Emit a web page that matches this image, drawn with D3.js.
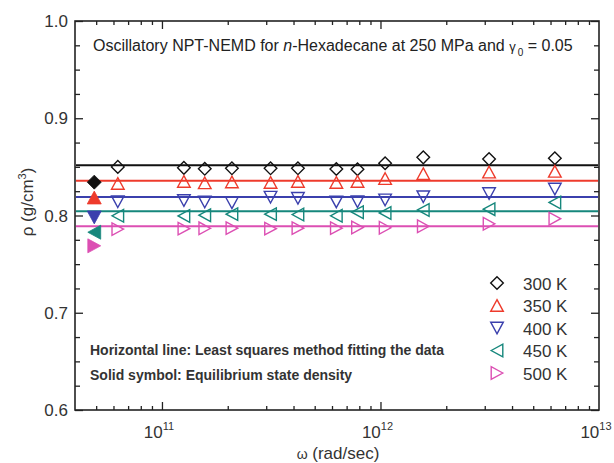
<!DOCTYPE html>
<html>
<head>
<meta charset="utf-8">
<script src="https://cdn.jsdelivr.net/npm/d3@7"></script>
<style>
  body { margin: 0; background: #fff; }
  svg { display: block; font-family: "Liberation Sans", Arial, sans-serif; }
</style>
</head>
<body>
<svg id="chart" width="614" height="463"></svg>
<script>
// Angular frequency of the oscillatory shear (rad/sec)
const omega = [6.28e10, 1.26e11, 1.57e11, 2.09e11, 3.14e11, 4.19e11, 6.28e11, 7.85e11, 1.05e12, 1.57e12, 3.14e12, 6.28e12];

// Density (g/cm^3) at each frequency, one array per temperature
const temps = ["300 K", "350 K", "400 K", "450 K", "500 K"];
const rho300 = [0.850, 0.849, 0.848, 0.8485, 0.8485, 0.8485, 0.8478, 0.8475, 0.8537, 0.8598, 0.8580, 0.8588];
const rho350 = [0.833, 0.835, 0.8336, 0.8345, 0.834, 0.835, 0.834, 0.835, 0.838, 0.843, 0.8447, 0.8454];
const rho400 = [0.8142, 0.8154, 0.8139, 0.813, 0.8188, 0.8177, 0.814, 0.8142, 0.816, 0.8193, 0.8226, 0.8272];
const rho450 = [0.7997, 0.7995, 0.8003, 0.8014, 0.8014, 0.801, 0.7997, 0.8034, 0.8026, 0.8057, 0.8065, 0.8134];
const rho500 = [0.786, 0.7865, 0.7868, 0.787, 0.7865, 0.787, 0.787, 0.7877, 0.7874, 0.7889, 0.7915, 0.7967];

// Least-squares horizontal fit for each temperature
const fitRho = [0.8516, 0.8358, 0.819, 0.8043, 0.7889];

// Equilibrium-state densities (solid symbols)
const eqOmega = 4.9e10;
const eqRho = [0.8343, 0.8185, 0.798, 0.7828, 0.7688];

const yTicks = [0.6, 0.7, 0.8, 0.9, 1.0];
const xTickExp = [11, 12, 13];

const colors = ["#111111", "#ee3b2c", "#3b40ad", "#16877c", "#dc4fb3"];
const shapes = ["diamond", "up", "down", "left", "right"];
const series = [rho300, rho350, rho400, rho450, rho500];

const svg = d3.select("#chart");
const L = 75, R = 599, T = 21, B = 410;

const x = d3.scaleLog().domain([4e10, 1e13]).range([L, R]);
const y = d3.scaleLinear().domain([0.6, 1.0]).range([B, T]);

// Marker outline paths centered on (0,0)
function shapePath(kind, r) {
  const h = r * 0.92;
  switch (kind) {
    case "diamond": return `M0,${-r}L${r},0L0,${r}L${-r},0Z`;
    case "up": return `M0,${-h}L${r},${h}L${-r},${h}Z`;
    case "down": return `M0,${h}L${r},${-h}L${-r},${-h}Z`;
    case "left": return `M${-h},0L${h},${-r}L${h},${r}Z`;
    case "right": return `M${h},0L${-h},${-r}L${-h},${r}Z`;
  }
}

// Minor tick positions
const xMinor = [];
for (let e = 10; e <= 12; e++) for (let k = 2; k <= 9; k++) {
  const v = k * Math.pow(10, e);
  if (v > 4e10 && v < 1e13) xMinor.push(v);
}
const yMinor = d3.range(0.625, 1.0, 0.025).filter(v => Math.abs(v * 10 - Math.round(v * 10)) > 1e-6);
const xMajor = xTickExp.map(e => Math.pow(10, e)).filter(v => v < 1e13);

const axisColor = "#222";
function styleAxis(g) {
  g.select(".domain").remove();
  g.selectAll(".tick line").attr("stroke", axisColor).attr("stroke-width", 1.3);
  g.selectAll(".tick text").remove();
}

// Bottom and top ticks (inward)
svg.append("g").attr("transform", `translate(0,${B})`)
  .call(d3.axisBottom(x).tickValues(xMinor).tickSize(-4).tickSizeOuter(0)).call(styleAxis);
svg.append("g").attr("transform", `translate(0,${B})`)
  .call(d3.axisBottom(x).tickValues(xMajor).tickSize(-8).tickSizeOuter(0)).call(styleAxis);
svg.append("g").attr("transform", `translate(0,${T})`)
  .call(d3.axisTop(x).tickValues(xMinor).tickSize(-4).tickSizeOuter(0)).call(styleAxis);
svg.append("g").attr("transform", `translate(0,${T})`)
  .call(d3.axisTop(x).tickValues(xMajor).tickSize(-8).tickSizeOuter(0)).call(styleAxis);

// Left and right ticks (inward)
svg.append("g").attr("transform", `translate(${L},0)`)
  .call(d3.axisLeft(y).tickValues(yMinor).tickSize(-5).tickSizeOuter(0)).call(styleAxis);
svg.append("g").attr("transform", `translate(${L},0)`)
  .call(d3.axisLeft(y).tickValues(yTicks).tickSize(-8).tickSizeOuter(0)).call(styleAxis);
svg.append("g").attr("transform", `translate(${R},0)`)
  .call(d3.axisRight(y).tickValues(yMinor).tickSize(-5).tickSizeOuter(0)).call(styleAxis);
svg.append("g").attr("transform", `translate(${R},0)`)
  .call(d3.axisRight(y).tickValues(yTicks).tickSize(-8).tickSizeOuter(0)).call(styleAxis);

// Frame
svg.append("rect").attr("x", L).attr("y", T).attr("width", R - L).attr("height", B - T)
  .attr("fill", "none").attr("stroke", axisColor).attr("stroke-width", 1.6);

// Y tick labels
svg.append("g").selectAll("text").data(yTicks).join("text")
  .attr("x", L - 7).attr("y", d => y(d) + 6)
  .attr("text-anchor", "end").attr("font-size", 17).attr("fill", "#333")
  .text(d => d.toFixed(1));

// X tick labels: 10 with superscript exponent
const xl = svg.append("g").selectAll("text").data(xTickExp).join("text")
  .attr("x", d => x(Math.pow(10, d)) - 3).attr("y", 438)
  .attr("text-anchor", "middle").attr("font-size", 17).attr("fill", "#333");
xl.append("tspan").text("10");
xl.append("tspan").attr("dy", -8).attr("font-size", 11).text(d => d);

// Axis titles
const xt = svg.append("text").attr("x", 338).attr("y", 459).attr("text-anchor", "middle")
  .attr("font-size", 17).attr("fill", "#333");
xt.append("tspan").attr("font-size", 14).text("ω");
xt.append("tspan").text(" (rad/sec)");

const yt = svg.append("text").attr("transform", "translate(33,202) rotate(-90)")
  .attr("text-anchor", "middle").attr("font-size", 17).attr("fill", "#333");
yt.append("tspan").text("ρ (g/cm");
yt.append("tspan").attr("dy", -7).attr("font-size", 11).text("3");
yt.append("tspan").attr("dy", 7).text(")");

// Fit lines
svg.append("g").selectAll("line").data(fitRho).join("line")
  .attr("x1", L + 1).attr("x2", R - 1)
  .attr("y1", d => y(d)).attr("y2", d => y(d))
  .attr("stroke", (d, i) => colors[i]).attr("stroke-width", 2);

// Open symbols for NEMD data
series.forEach((vals, i) => {
  svg.append("g").selectAll("path").data(vals).join("path")
    .attr("transform", (d, j) => `translate(${x(omega[j])},${y(d)})`)
    .attr("d", shapePath(shapes[i], 6.3))
    .attr("fill", "none").attr("stroke", colors[i]).attr("stroke-width", 1.4);
});

// Solid symbols for equilibrium densities
svg.append("g").selectAll("path").data(eqRho).join("path")
  .attr("transform", d => `translate(${x(eqOmega)},${y(d)})`)
  .attr("d", (d, i) => shapePath(shapes[i], 7))
  .attr("fill", (d, i) => colors[i]).attr("stroke", (d, i) => colors[i]).attr("stroke-width", 0.8);

// Title
const title = svg.append("text").attr("x", 93).attr("y", 51)
  .attr("font-size", 16).attr("fill", "#222");
title.append("tspan").text("Oscillatory NPT-NEMD for ");
title.append("tspan").attr("font-style", "italic").text("n");
title.append("tspan").text("-Hexadecane at 250 MPa and ");
title.append("tspan").attr("font-size", 13).text("γ");
title.append("tspan").attr("dy", 5).attr("dx", 2).attr("font-size", 10).text("0");
title.append("tspan").attr("dy", -5).text(" = 0.05");

// Notes
svg.append("text").attr("x", 90).attr("y", 354.5).attr("font-size", 14).attr("font-weight", "bold")
  .attr("fill", "#333").text("Horizontal line: Least squares method fitting the data");
svg.append("text").attr("x", 90).attr("y", 380).attr("font-size", 14).attr("font-weight", "bold")
  .attr("fill", "#333").text("Solid symbol: Equilibrium state density");

// Legend
const leg = svg.append("g");
temps.forEach((t, i) => {
  const ly = 283 + i * 22.5;
  leg.append("path").attr("transform", `translate(497,${ly})`)
    .attr("d", shapePath(shapes[i], 6.3))
    .attr("fill", "none").attr("stroke", colors[i]).attr("stroke-width", 1.4);
  leg.append("text").attr("x", 523).attr("y", ly + 6.5).attr("font-size", 17).attr("fill", "#333").text(t);
});
</script>
</body>
</html>
